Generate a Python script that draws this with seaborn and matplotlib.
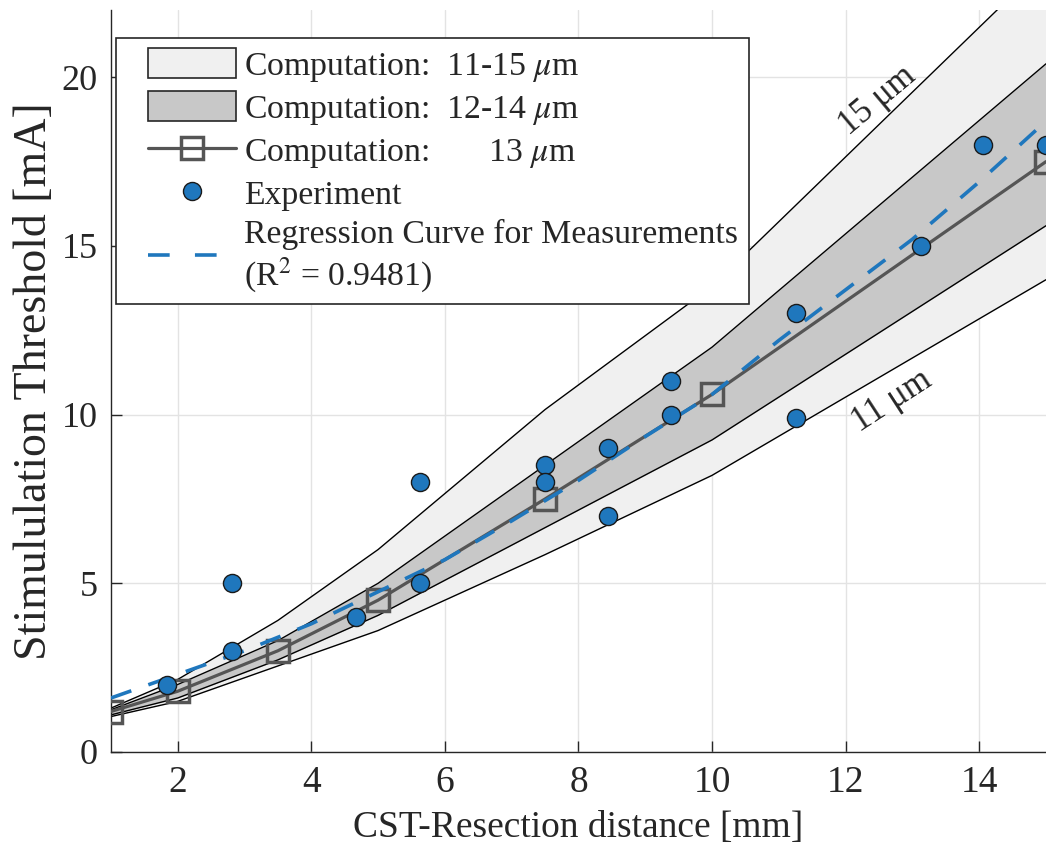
import numpy as np
import pandas as pd
import matplotlib
matplotlib.use('Agg')
import matplotlib.pyplot as plt
import seaborn as sns
from matplotlib.patches import Patch
from matplotlib.lines import Line2D
from matplotlib.legend_handler import HandlerPatch, HandlerLine2D

# computation curves (fibre diameters 11..15 um)
dist = [1, 2, 3.5, 5, 7.5, 10, 15]
thr_11 = [1.05, 1.5, 2.55, 3.6, 5.85, 8.2, 14.0]
thr_12 = [1.1, 1.6, 2.73, 4.05, 6.65, 9.25, 15.6]
thr_13 = [1.2, 1.8, 3.0, 4.5, 7.5, 10.6, 17.5]
thr_14 = [1.25, 2.0, 3.3, 5.0, 8.5, 12.0, 20.4]
thr_15 = [1.3, 2.15, 3.9, 6.0, 10.15, 13.8, 23.4]

# measurements
exp_x = [1.84, 2.81, 2.81, 4.67, 5.63, 5.63, 7.5, 7.5, 8.44, 8.44,
         9.38, 9.38, 11.25, 11.25, 13.13, 14.06, 15.0]
exp_y = [2.0, 5.0, 3.0, 4.0, 8.0, 5.0, 8.5, 8.0, 9.0, 7.0,
         11.0, 10.0, 13.0, 9.9, 15.0, 18.0, 18.0]

# regression curve
reg_x = [1, 2, 3, 4, 5, 6, 7, 8, 9, 10, 11, 12, 13, 14, 15]
reg_y = [1.6, 2.3, 3.0, 3.8, 4.75, 5.7, 6.85, 8.05, 9.35, 10.6,
         12.2, 13.7, 15.2, 16.9, 18.7]

comp = pd.DataFrame({'dist': dist, 'thr': thr_13})
exp_df = pd.DataFrame({'dist': exp_x, 'thr': exp_y})
reg_df = pd.DataFrame({'dist': reg_x, 'thr': reg_y})

sns.set_style('ticks')
plt.rcParams['font.family'] = ['Liberation Serif', 'DejaVu Serif']
plt.rcParams['mathtext.fontset'] = 'stix'

blue = '#1f77bd'
grey = '#555555'
dark = '#262626'

fig = plt.figure(figsize=(10.46, 8.61), dpi=100)
ax = fig.add_axes([0.106, 0.1266, 0.894, 0.862])

ax.fill_between(dist, thr_11, thr_15, color='#f0f0f0', lw=0, zorder=1)
ax.fill_between(dist, thr_12, thr_14, color='#c8c8c8', lw=0, zorder=1.1)
for t in (thr_11, thr_12, thr_14, thr_15):
    ax.plot(dist, t, color='black', lw=1, zorder=1.5)

sns.lineplot(data=comp, x='dist', y='thr', ax=ax, color=grey, lw=2.3,
             marker='s', markersize=16, markerfacecolor='none',
             markeredgecolor=grey, markeredgewidth=2.5, zorder=3)
sns.lineplot(data=reg_df, x='dist', y='thr', ax=ax, color=blue, lw=2.6,
             zorder=4).lines[-1].set_dashes((6, 5))
sns.scatterplot(data=exp_df, x='dist', y='thr', ax=ax, color=blue, s=170,
                edgecolor='#1a1a1a', linewidth=1, zorder=5)

ax.text(12.48, 19.3, '15 μm', fontsize=25, rotation=40,
        ha='center', va='center', zorder=6)
ax.text(12.7, 10.4, '11 μm', fontsize=25, rotation=33,
        ha='center', va='center', zorder=6)

ax.set_xlim(1, 15)
ax.set_ylim(0, 22)
ax.set_xticks([2, 4, 6, 8, 10, 12, 14])
ax.set_yticks([0, 5, 10, 15, 20])
ax.grid(True, color='#e3e3e3', lw=1)
ax.set_axisbelow(True)
ax.tick_params(direction='in', length=8, width=1, colors=dark)
ax.tick_params(axis='x', labelsize=27, pad=9.5)
ax.tick_params(axis='y', labelsize=26, pad=9.5)
for s in ('top', 'right'):
    ax.spines[s].set_visible(False)
for s in ('left', 'bottom'):
    ax.spines[s].set_color(dark)
    ax.spines[s].set_linewidth(1)

ax.set_xlabel('CST-Resection distance [mm]', fontsize=27, color=dark, labelpad=8)
ax.set_ylabel('Stimululation Threshold [mA]', fontsize=33, color=dark, labelpad=4)

handles = [
    Patch(facecolor='#f0f0f0', edgecolor=dark, lw=1.2),
    Patch(facecolor='#c8c8c8', edgecolor=dark, lw=1.2),
    Line2D([], [], color=grey, lw=2.3, marker='s', markersize=16,
           markerfacecolor='none', markeredgecolor=grey, markeredgewidth=2.5),
    Line2D([], [], color=blue, marker='o', ls='none', markersize=13,
           markeredgecolor='#1a1a1a', markeredgewidth=1),
    Line2D([], [], color=blue, lw=2.6, ls=(0, (6, 7))),
]
labels = [
    r'Computation:  11-15 $\mu$m',
    r'Computation:  12-14 $\mu$m',
    r'Computation:       13 $\mu$m',
    'Experiment',
    'Regression Curve for Measurements\n(R$^2$ = 0.9481)',
]
hmap = {Patch: HandlerPatch(xpad=0.62), Line2D: HandlerLine2D(xpad=0.62)}
leg = ax.legend(handles, labels, loc='upper left', bbox_to_anchor=(0.006, 0.962),
                borderaxespad=0, fontsize=24.3, frameon=True, fancybox=False,
                framealpha=1, edgecolor=dark, handlelength=3.25,
                handleheight=1.0, labelspacing=0.22, handletextpad=0.24,
                borderpad=0.3, handler_map=hmap)
leg.get_frame().set_linewidth(1.2)
leg.set_zorder(10)

fig.savefig('out.png', dpi=100)
